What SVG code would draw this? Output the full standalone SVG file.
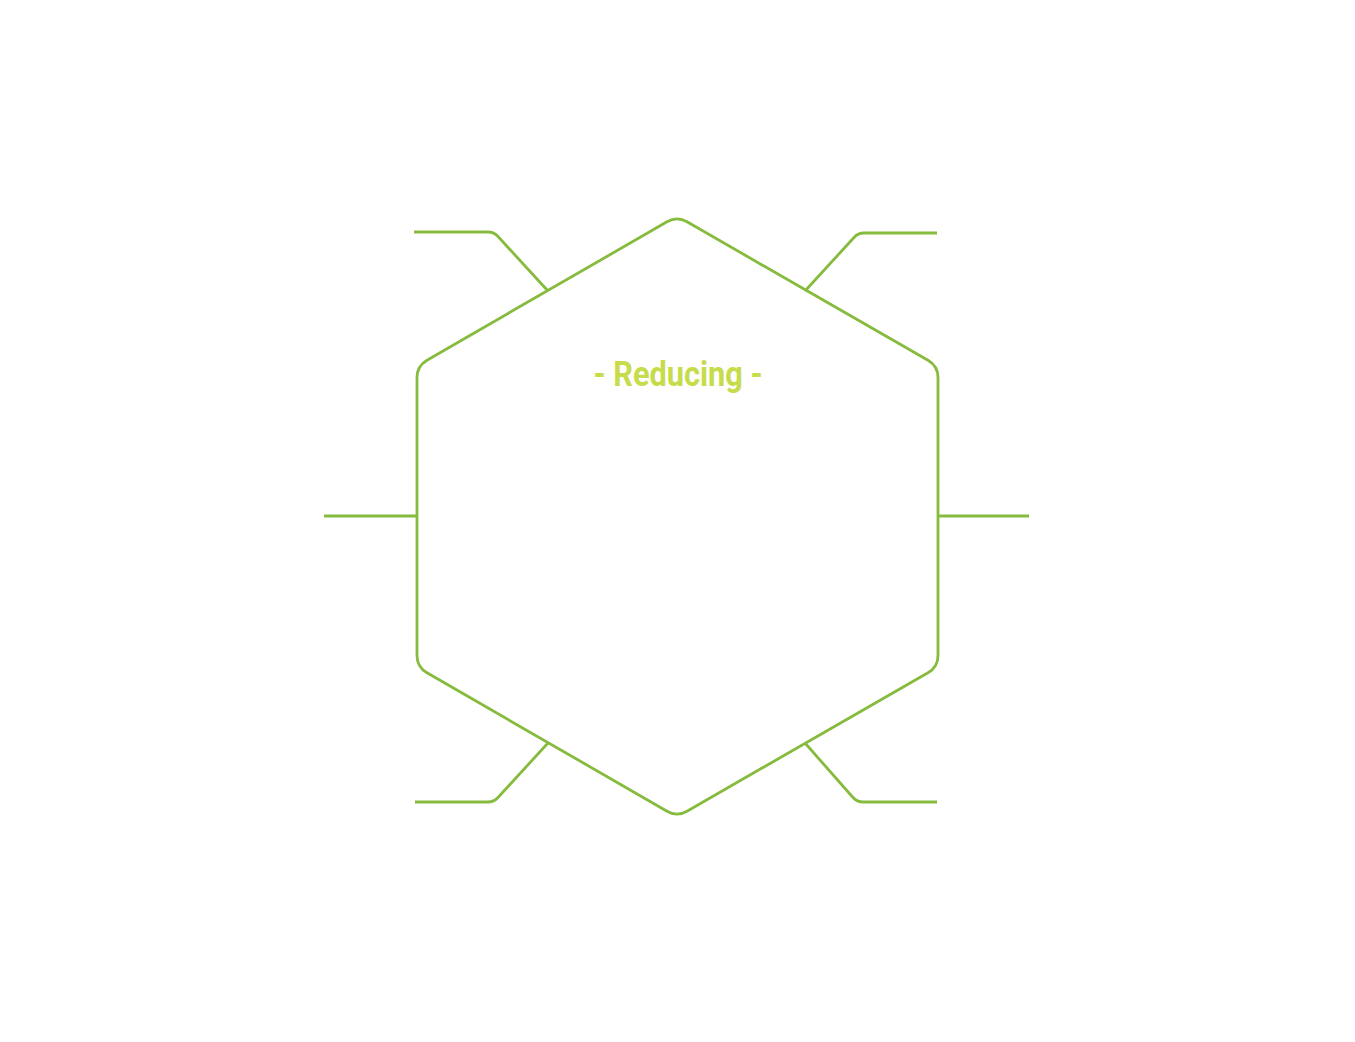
<svg xmlns="http://www.w3.org/2000/svg" width="1355" height="1042" viewBox="0 0 1355 1042">
<style>
.ln{fill:none;stroke:#86bb3e;stroke-width:2.8;stroke-linejoin:round;stroke-linecap:butt}
.title{font-family:Roboto,"Liberation Sans",sans-serif;font-weight:bold;font-size:35px;fill:#c6dc4b}
</style>
<rect width="1355" height="1042" fill="#ffffff"/>
<g id="hexagon">
<path class="ln" d="M 667 221.8 Q 677 216 687 221.8 L 928 360.2 Q 938 366 938 377.5 L 938 655.5 Q 938 667 928 672.8 L 687 811.2 Q 677 817 667 811.2 L 427 672.8 Q 417 667 417 655.5 L 417 377.5 Q 417 366 427 360.2 Z"/>
<text class="title" x="678" y="385.5" text-anchor="middle" textLength="169" lengthAdjust="spacingAndGlyphs">- Reducing -</text>
</g>
<g id="connectors">
<path class="ln" d="M 548 291 L 498 236.5 Q 494 232 488 232 L 414 232"/>
<path class="ln" d="M 805 291 L 854 237.5 Q 858 233 864 233 L 937 233"/>
<path class="ln" d="M 324 516 L 417 516"/>
<path class="ln" d="M 938 516 L 1029 516"/>
<path class="ln" d="M 548 743 L 498 797.5 Q 494 802 488 802 L 415 802"/>
<path class="ln" d="M 805 743 L 853 797.5 Q 857 802 863 802 L 937 802"/>
</g>
</svg>
